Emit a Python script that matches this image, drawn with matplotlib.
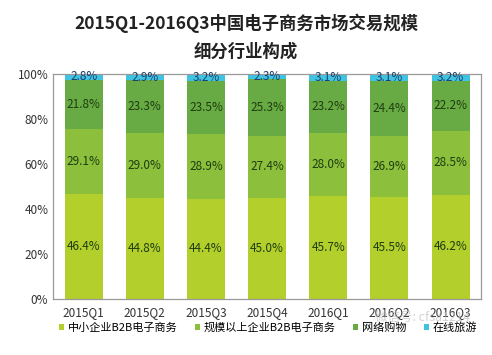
import numpy as np
import matplotlib
matplotlib.use("Agg")
import matplotlib.pyplot as plt

plt.rcParams['font.family'] = ['Noto Sans CJK SC', 'DejaVu Sans']

quarters = ["2015Q1", "2015Q2", "2015Q3", "2015Q4", "2016Q1", "2016Q2", "2016Q3"]
sme_b2b = [46.4, 44.8, 44.4, 45.0, 45.7, 45.5, 46.2]
large_b2b = [29.1, 29.0, 28.9, 27.4, 28.0, 26.9, 28.5]
online_shop = [21.8, 23.3, 23.5, 25.3, 23.2, 24.4, 22.2]
online_travel = [2.8, 2.9, 3.2, 2.3, 3.1, 3.1, 3.2]

series = [
    ("中小企业B2B电子商务", sme_b2b, "#b3cf2c", "#1f3d10"),
    ("规模以上企业B2B电子商务", large_b2b, "#8cc03c", "#1f3d10"),
    ("网络购物", online_shop, "#68ab44", "#1f3d10"),
    ("在线旅游", online_travel, "#3fc3e3", "#1d3f6a"),
]

fig = plt.figure(figsize=(4.92, 3.55), dpi=100)
ax = fig.add_axes([0.108, 0.158, 0.870, 0.634])

x = np.arange(len(quarters))
bottom = np.zeros(len(quarters))
handles = []
for name, vals, color, tcolor in series:
    vals = np.array(vals)
    b = ax.bar(x, vals, bottom=bottom, width=0.62, color=color, label=name)
    handles.append(b)
    for xi, v, b0 in zip(x, vals, bottom):
        ax.text(xi, b0 + v / 2, f"{v:.1f}%", ha="center", va="center",
                fontsize=8.5, color=tcolor)
    bottom += vals

ax.set_xlim(-0.5, len(quarters) - 0.5)
ax.set_ylim(0, 100)
ax.set_yticks(range(0, 101, 20))
ax.set_yticklabels([f"{t}%" for t in range(0, 101, 20)])
ax.set_xticks(x)
ax.set_xticklabels(quarters)
ax.tick_params(axis="both", length=0, labelsize=8.5, colors="#333333")
ax.tick_params(axis="x", pad=5)
for s in ax.spines.values():
    s.set_color("#999999")
    s.set_linewidth(0.9)

fig.text(0.5, 0.935, "2015Q1-2016Q3中国电子商务市场交易规模", ha="center", va="center",
         fontsize=12.5, fontweight="bold", color="#222222")
fig.text(0.5, 0.855, "细分行业构成", ha="center", va="center",
         fontsize=12.5, fontweight="bold", color="#222222")

fig.legend(handles, [s[0] for s in series], loc="center", bbox_to_anchor=(0.545, 0.077),
           ncol=4, frameon=False, fontsize=8, handlelength=0.45, handleheight=0.45,
           handletextpad=0.3, columnspacing=1.6, borderpad=0)

fig.text(0.955, 0.105, "微信号: cfsa1214", ha="right", va="center", fontsize=9,
         color="#c0c0c0", alpha=0.7)

fig.savefig("out.png", dpi=100, facecolor="white")
